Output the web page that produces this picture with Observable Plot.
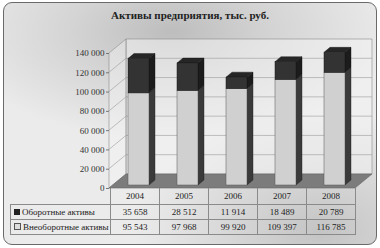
<!DOCTYPE html>
<html>
<head>
<meta charset="utf-8">
<script src="https://cdn.jsdelivr.net/npm/d3@7"></script>
<script src="https://cdn.jsdelivr.net/npm/@observablehq/plot@0.6"></script>
<style>
  html, body { margin:0; padding:0; width:380px; height:248px; overflow:hidden; background:#fff; }
  #box { position:absolute; left:3px; top:2px; width:372px; height:241px; border:1px solid #6a6a6a; border-radius:9px;
         background: radial-gradient(ellipse 60% 45% at 45% 12%, #bdbdbd 0%, #d4d4d4 45%, rgba(236,236,236,0) 100%),
                     radial-gradient(ellipse 50% 50% at 85% 95%, #c4c4c4 0%, rgba(230,230,230,0) 100%),
                     #ebebeb; }
  #title { position:absolute; left:0; top:9px; width:380px; text-align:center; font-family:"Liberation Serif", serif;
           font-weight:bold; font-size:11px; color:#222; }
  #chart { position:absolute; left:0; top:0; }
  #tbl { position:absolute; left:10px; top:188px; border-collapse:collapse; table-layout:fixed; width:345px;
         font-family:"Liberation Serif", serif; font-size:9px; color:#222; }
  #tbl td { padding:0; text-align:center; white-space:nowrap; border:0.8px solid #8a8a8a; }
  #tbl tr.h td { height:16px; }
  #tbl tr.r td { height:14px; }
  #tbl td.lab { text-align:left; padding-left:3px; }
  .sw { display:inline-block; width:6px; height:6px; margin-right:2px; vertical-align:0px; }
</style>
</head>
<body>
<div id="box"></div>
<div id="title">Активы предприятия, тыс. руб.</div>
<div id="chart"></div>
<table id="tbl"></table>
<script>
// ---- data ----
const years = ["2004", "2005", "2006", "2007", "2008"];
const seriesNames = ["Оборотные активы", "Внеоборотные активы"];
const currentAssets = [35658, 28512, 11914, 18489, 20789];      // Оборотные активы (top, dark)
const nonCurrentAssets = [95543, 97968, 99920, 109397, 116785]; // Внеоборотные активы (bottom, light)
const yTicks = [0, 20000, 40000, 60000, 80000, 100000, 120000, 140000];

const fmt = v => d3.format(",")(v).replace(/,/g, " ");

const rows = years.map((yr, i) => ({
  year: yr,
  base: nonCurrentAssets[i],
  total: nonCurrentAssets[i] + currentAssets[i]
}));

const DX = 4, OX = 6, OY = 5;           // bar 3D depth
const WX = 17, WY = 14, FY = 3;          // wall depth, front offset

function walls(index, scales, values, dim) {
  const y = scales.y;
  const L = dim.marginLeft - 1, R = dim.width - dim.marginRight;
  const y0 = y(0) + FY, yT = y(yTicks[yTicks.length - 1]) + FY;
  const g = d3.create("svg:g");
  // back wall
  g.append("path").attr("d", `M${L+WX},${yT-WY}H${R+WX}V${y0-WY}H${L+WX}Z`)
    .attr("fill", "#f2f2f2").attr("fill-opacity", 0.55).attr("stroke", "#8c8c8c").attr("stroke-width", 0.6);
  // left wall
  g.append("path").attr("d", `M${L},${y0}V${yT}L${L+WX},${yT-WY}V${y0-WY}Z`)
    .attr("fill", "#f4f4f4").attr("fill-opacity", 0.45).attr("stroke", "#8c8c8c").attr("stroke-width", 0.6);
  // gridlines
  for (const t of yTicks.slice(1, -1)) {
    const yy = y(t) + FY;
    g.append("path").attr("d", `M${L},${yy}L${L+WX},${yy-WY}H${R+WX}`)
      .attr("fill", "none").attr("stroke", "#9a9a9a").attr("stroke-width", 0.6);
  }
  // floor
  g.append("path").attr("d", `M${L},${y0}L${L+WX},${y0-WY}H${R+WX}L${R},${y0}Z`)
    .attr("fill", "#7c7c7c").attr("stroke", "#666").attr("stroke-width", 0.6);
  return g.node();
}

function barFaces(index, scales, values, dim) {
  const x = scales.x, y = scales.y;
  const bw = typeof x.bandwidth === "function" ? x.bandwidth() : 21;
  const g = d3.create("svg:g");
  for (const r of rows) {
    const x1 = x(r.year) + DX, x2 = x1 + bw;
    const yb = y(0), ym = y(r.base), yt = y(r.total);
    // side faces
    g.append("path").attr("d", `M${x2},${yb}L${x2+OX},${yb-OY}V${ym-OY}L${x2},${ym}Z`)
      .attr("fill", "#3a3a3a").attr("stroke", "#222").attr("stroke-width", 0.4);
    g.append("path").attr("d", `M${x2},${ym}L${x2+OX},${ym-OY}V${yt-OY}L${x2},${yt}Z`)
      .attr("fill", "#1c1c1c").attr("stroke", "#111").attr("stroke-width", 0.4);
    // top face
    g.append("path").attr("d", `M${x1},${yt}L${x1+OX},${yt-OY}H${x2+OX}L${x2},${yt}Z`)
      .attr("fill", "#262626").attr("stroke", "#111").attr("stroke-width", 0.4);
  }
  return g.node();
}

const chart = Plot.plot({
  width: 380,
  height: 195,
  marginLeft: 110,
  marginRight: 25,
  marginTop: 50,
  marginBottom: 10,
  style: { background: "transparent", fontFamily: "'Liberation Serif', serif", fontSize: "9px", color: "#333" },
  x: { domain: years, paddingInner: 0.57, paddingOuter: 0.285, axis: null },
  y: { domain: [0, 140000], axis: null },
  marks: [
    walls,
    barFaces,
    Plot.barY(rows, { x: "year", y1: 0, y2: "base", dx: DX, fill: "#d0d0d0", stroke: "#555", strokeWidth: 0.5 }),
    Plot.barY(rows, { x: "year", y1: "base", y2: "total", dx: DX, fill: "#333333", stroke: "#1a1a1a", strokeWidth: 0.5 }),
    Plot.axisY({ ticks: yTicks, tickFormat: fmt, dy: FY, dx: -1, tickSize: 3, tickPadding: 2, stroke: "#777", fill: "#333", label: null })
  ]
});
document.getElementById("chart").appendChild(chart);

// ---- data table ----
const tbl = document.getElementById("tbl");
let html = `<colgroup><col style="width:100px">${years.map(() => `<col style="width:49px">`).join("")}</colgroup>`;
html += `<tr class="h"><td style="border:none;border-right:0.8px solid #8a8a8a"></td>${years.map(y => `<td style="border-top:none">${y}</td>`).join("")}</tr>`;
html += `<tr class="r"><td class="lab"><span class="sw" style="background:#222"></span>${seriesNames[0]}</td>${currentAssets.map(v => `<td>${fmt(v)}</td>`).join("")}</tr>`;
html += `<tr class="r"><td class="lab"><span class="sw" style="background:#ddd;border:0.8px solid #555;width:5px;height:5px"></span>${seriesNames[1]}</td>${nonCurrentAssets.map(v => `<td>${fmt(v)}</td>`).join("")}</tr>`;
tbl.innerHTML = html;
</script>
</body>
</html>
